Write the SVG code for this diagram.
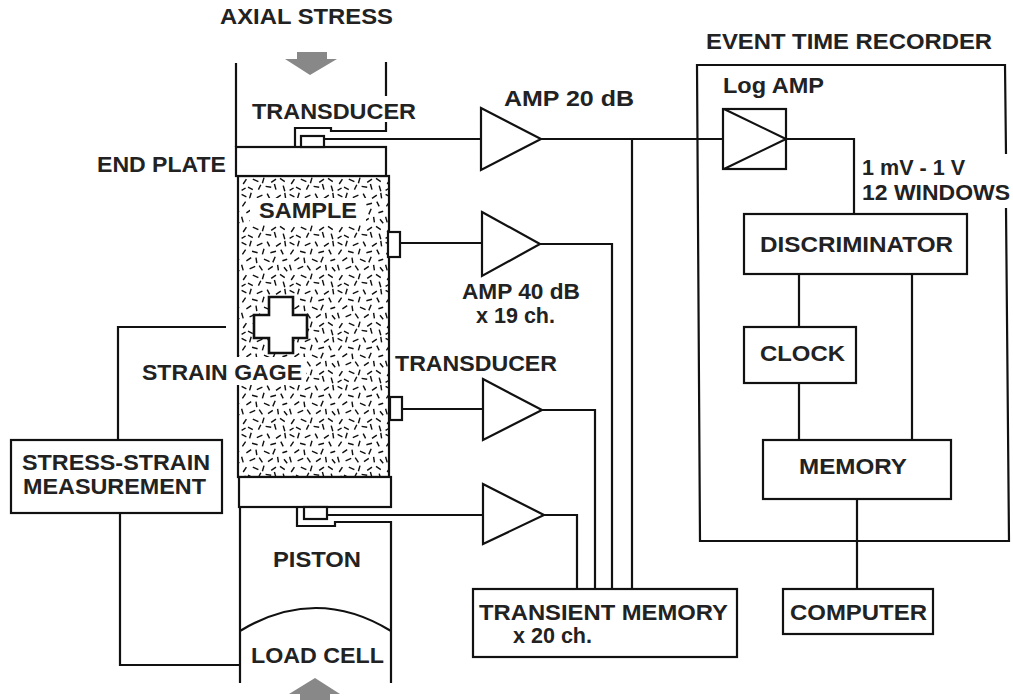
<svg xmlns="http://www.w3.org/2000/svg" width="1013" height="700" viewBox="0 0 1013 700">
<style>
text{font-family:"Liberation Sans",Arial,sans-serif;font-size:22.5px;fill:#222;font-weight:bold;stroke:none}
.n{fill:#fff;stroke:#111;stroke-width:2.2}
.w{fill:none;stroke:#111;stroke-width:2.2}
.a{fill:#888}
.s{stroke:#111;stroke-width:1.8;fill:none}
</style>
<defs>
<pattern id="sp" width="60" height="60" patternUnits="userSpaceOnUse" patternTransform="scale(0.8)">
<path class="s" d="M2 3l6 3M14 1l-2 7M21 7l7-3M34 2l3 6M45 8l6-4M56 1l1 7M7 12l-4 6M15 14l7 2M30 11l-2 7M38 16l7-2M51 12l3 6M8 26l6-4M20 22l1 7M30 24l7 3M44 21l-3 7M53 26l6-2M2 31l2 7M12 36l7-3M24 32l4 6M35 37l6-4M47 31l1 7M55 34l4 5M8 44l-4 6M16 44l7 3M30 42l-2 7M39 48l6-4M50 43l6 4M10 54l6 3M23 57l3-6M32 53l7 1M45 57l-2-7M54 52l2 7M2 58l5-3"/>
</pattern>
</defs>
<g id="labels">
<text x="220" y="24" textLength="173" lengthAdjust="spacingAndGlyphs">AXIAL STRESS</text>
<text x="706" y="49" textLength="286" lengthAdjust="spacingAndGlyphs">EVENT TIME RECORDER</text>
<text x="252" y="119" textLength="164" lengthAdjust="spacingAndGlyphs">TRANSDUCER</text>
<text x="504" y="106" textLength="130" lengthAdjust="spacingAndGlyphs">AMP 20 dB</text>
<text x="97" y="172" textLength="129" lengthAdjust="spacingAndGlyphs">END PLATE</text>
<text x="723" y="93" textLength="101" lengthAdjust="spacingAndGlyphs">Log AMP</text>
<text x="862" y="175" textLength="103" lengthAdjust="spacingAndGlyphs">1 mV - 1 V</text>
<text x="862" y="200" textLength="148" lengthAdjust="spacingAndGlyphs">12 WINDOWS</text>
<text x="462" y="299" textLength="118" lengthAdjust="spacingAndGlyphs">AMP 40 dB</text>
<text x="476" y="323" textLength="79" lengthAdjust="spacingAndGlyphs">x 19 ch.</text>
<text x="395" y="371" textLength="162" lengthAdjust="spacingAndGlyphs">TRANSDUCER</text>
<text x="273" y="567" textLength="88" lengthAdjust="spacingAndGlyphs">PISTON</text>
<text x="251" y="663" textLength="133" lengthAdjust="spacingAndGlyphs">LOAD CELL</text>
</g>
<g id="sample">
<rect x="238" y="176" width="151" height="301" fill="url(#sp)" stroke="#111" stroke-width="2.2"/>
<path fill="#fff" stroke="#111" stroke-width="2.6" d="M269 297H293V315H307V338H293V353H269V338H254V315H269Z"/>
<rect x="250" y="198" width="116" height="27" fill="#fff" stroke="none"/>
<text x="259" y="218" textLength="98" lengthAdjust="spacingAndGlyphs">SAMPLE</text>
<rect x="230" y="357" width="76" height="28" fill="#fff" stroke="none"/>
<text x="142" y="380" textLength="160" lengthAdjust="spacingAndGlyphs">STRAIN GAGE</text>
</g>
<g id="end-plate-top"><rect class="n" x="236" y="147" width="150" height="29"/></g>
<g id="end-plate-bottom"><rect class="n" x="239" y="477" width="152" height="30"/></g>
<g id="frame-top"><path class="w" d="M236 63V147M386 62V96M386 122V131H331V128H295V147"/></g>
<g id="frame-bottom"><path class="w" d="M240 507V683M391 683V522H335V526H297V507M240 631Q316 585 391 631"/></g>
<g id="arrow-top"><path class="a" d="M297 52H327V59H337L310 75L285 59H297Z"/></g>
<g id="arrow-bottom"><path class="a" d="M300 700V694H289L315 678L340 694H330V700Z"/></g>
<g id="transducer-top"><rect class="n" x="301" y="136" width="23" height="11"/></g>
<g id="transducer-mid1"><rect class="n" x="388" y="232" width="12" height="25"/></g>
<g id="transducer-mid2"><rect class="n" x="390" y="397" width="12" height="23"/></g>
<g id="transducer-bottom"><rect class="n" x="304" y="507" width="23" height="12"/></g>
<g id="amp1"><path class="n" d="M481 108L541 139L481 170Z"/></g>
<g id="amp2"><path class="n" d="M482 212L540 244L482 276Z"/></g>
<g id="amp3"><path class="n" d="M483 379L542 410L483 440Z"/></g>
<g id="amp4"><path class="n" d="M483 484L544 515L483 544Z"/></g>
<g id="log-amp"><rect class="n" x="723" y="109" width="63" height="60"/><path class="w" d="M724 109L786 139L724 169"/></g>
<g id="recorder-frame"><path class="w" d="M1006 154L1005 65H697L700 541H1009L1006 208"/></g>
<g id="discriminator"><rect class="n" x="744" y="214" width="223" height="60"/><text x="760" y="252" textLength="193" lengthAdjust="spacingAndGlyphs">DISCRIMINATOR</text></g>
<g id="clock"><rect class="n" x="744" y="327" width="112" height="56"/><text x="760" y="361" textLength="85" lengthAdjust="spacingAndGlyphs">CLOCK</text></g>
<g id="memory"><rect class="n" x="763" y="440" width="188" height="59"/><text x="799" y="474" textLength="108" lengthAdjust="spacingAndGlyphs">MEMORY</text></g>
<g id="computer"><rect class="n" x="783" y="589" width="150" height="45"/><text x="790" y="620" textLength="137" lengthAdjust="spacingAndGlyphs">COMPUTER</text></g>
<g id="transient-memory"><rect class="n" x="473" y="589" width="264" height="68"/><text x="479" y="620" textLength="249" lengthAdjust="spacingAndGlyphs">TRANSIENT MEMORY</text><text x="513" y="643" textLength="79" lengthAdjust="spacingAndGlyphs">x 20 ch.</text></g>
<g id="stress-strain"><rect class="n" x="11" y="440" width="211" height="73"/><text x="22" y="470" textLength="188" lengthAdjust="spacingAndGlyphs">STRESS-STRAIN</text><text x="23" y="494" textLength="183" lengthAdjust="spacingAndGlyphs">MEASUREMENT</text></g>
<g id="connectors">
<path class="w" d="M324 139H481M541 139H723M786 139H854V214"/>
<path class="w" d="M400 243H482M540 244H612V589"/>
<path class="w" d="M402 409H483M542 410H595V589"/>
<path class="w" d="M327 515H483M544 515H577V589"/>
<path class="w" d="M632 139V589"/>
<path class="w" d="M799 274V327M799 383V440M912 274V440M857 499V589"/>
<path class="w" d="M118 440V327H226M120 513V665H240"/>
</g>
</svg>
